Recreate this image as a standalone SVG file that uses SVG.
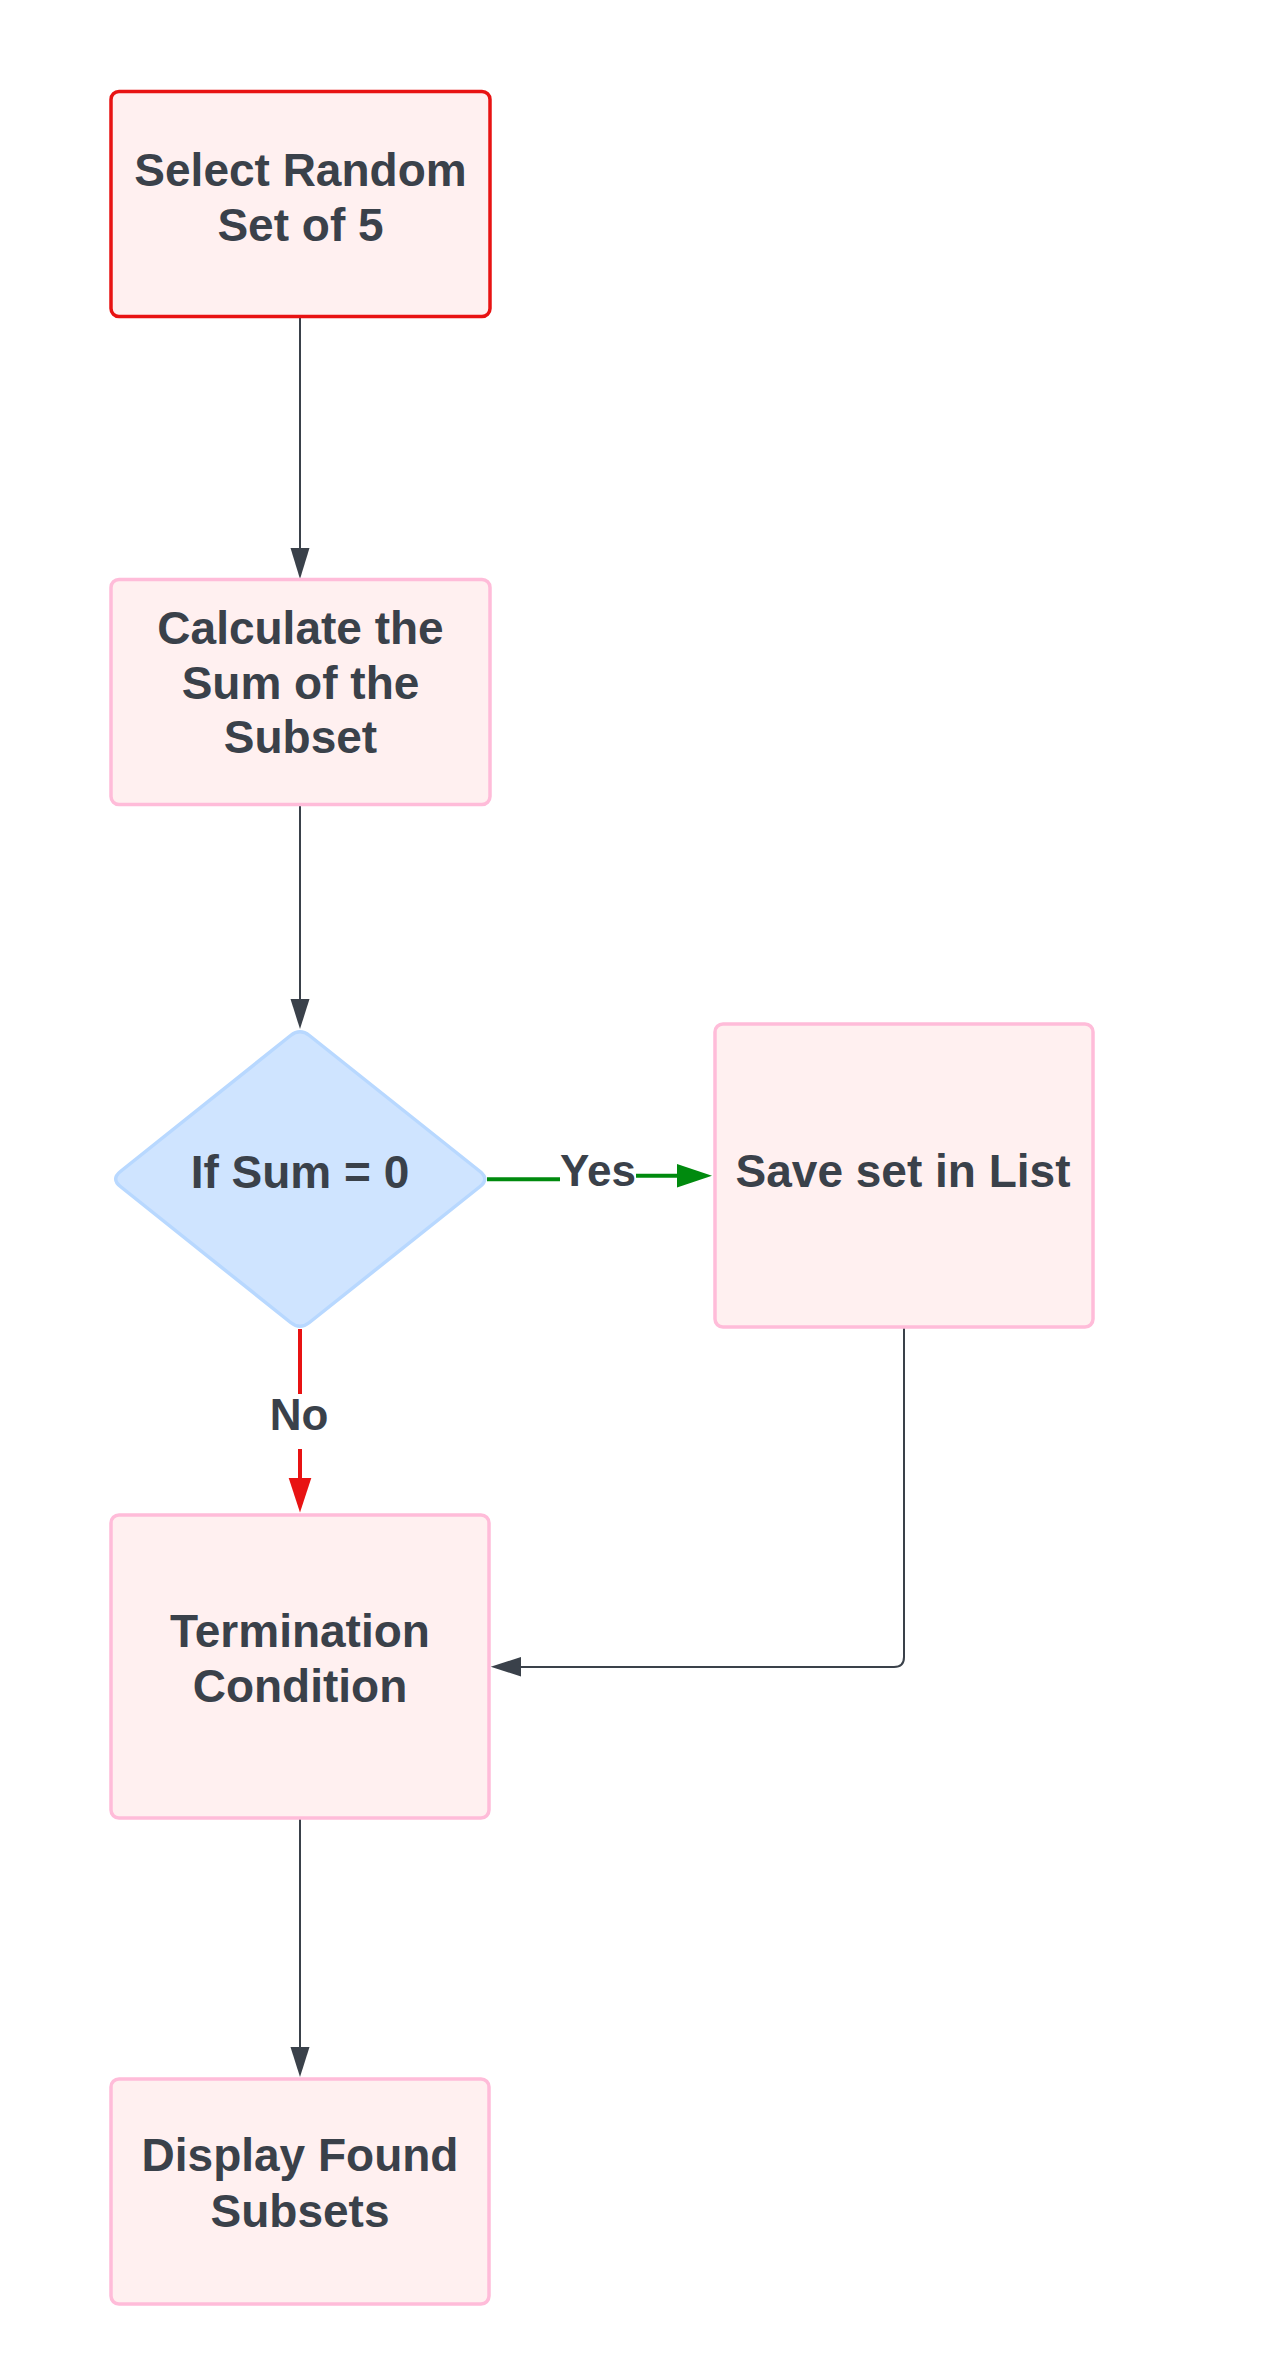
<svg xmlns="http://www.w3.org/2000/svg" width="1282" height="2379" viewBox="0 0 1282 2379">
<style>
.box{fill:#fff0f0;stroke:#ffbcd9;stroke-width:3.5}
.start{fill:#fff0f0;stroke:#e81313;stroke-width:3.5}
.dec{fill:#cfe4ff;stroke:#b8d8ff;stroke-width:3.5}
.t{font-family:"Liberation Sans",Arial,sans-serif;font-weight:bold;font-size:46px;fill:#3a414a;text-anchor:middle}
.lbl{font-family:"Liberation Sans",Arial,sans-serif;font-weight:bold;font-size:44px;fill:#3a414a;text-anchor:middle}
.c{fill:none;stroke:#3a414a;stroke-width:2}
.g{fill:none;stroke:#008a0e;stroke-width:4}
.r{fill:none;stroke:#e81313;stroke-width:4}
.ah{fill:#3a414a}
.ahg{fill:#008a0e}
.ahr{fill:#e81313}
</style>
<rect width="1282" height="2379" fill="#ffffff"/>
<g id="connectors">
<path class="c" d="M300,317 V549"/>
<polygon class="ah" points="290.5,548 309.5,548 300,579"/>
<path class="c" d="M300,805 V1000"/>
<polygon class="ah" points="290.5,999 309.5,999 300,1029"/>
<path class="g" d="M487,1179.3 H560"/>
<path class="g" d="M636,1175.7 H678"/>
<polygon class="ahg" points="677,1164 677,1187.4 712,1175.7"/>
<text class="lbl" x="598" y="1186">Yes</text>
<path class="r" d="M300,1329 V1394"/>
<path class="r" d="M300,1449 V1479"/>
<polygon class="ahr" points="288.7,1478 311.3,1478 300,1512.5"/>
<text class="lbl" x="299" y="1430">No</text>
<path class="c" d="M904,1328 V1657 Q904,1667 894,1667 H520"/>
<polygon class="ah" points="521,1657 521,1676.5 490.7,1666.7"/>
<path class="c" d="M300,1819 V2048"/>
<polygon class="ah" points="290.5,2047 309.5,2047 300,2077"/>
</g>
<g id="select">
<rect class="start" x="111" y="91.5" width="379" height="225" rx="8"/>
<text class="t" x="300.5" y="186">Select Random</text>
<text class="t" x="300.5" y="241">Set of 5</text>
</g>
<g id="calculate">
<rect class="box" x="111" y="579.5" width="379" height="225" rx="8"/>
<text class="t" x="300.5" y="644">Calculate the</text>
<text class="t" x="300.5" y="699">Sum of the</text>
<text class="t" x="300.5" y="753">Subset</text>
</g>
<g id="decision">
<path class="dec" d="M309.4,1035.5 L480.1,1171.5 Q489.5,1179 480.1,1186.5 L309.4,1322.5 Q300,1330 290.6,1322.5 L120.4,1186.5 Q111,1179 120.4,1171.5 L290.6,1035.5 Q300,1028 309.4,1035.5 Z"/>
<text class="t" x="300" y="1188">If Sum = 0</text>
</g>
<g id="save">
<rect class="box" x="715" y="1024" width="378" height="303" rx="8"/>
<text class="t" x="903" y="1187">Save set in List</text>
</g>
<g id="termination">
<rect class="box" x="111" y="1515" width="378" height="303" rx="8"/>
<text class="t" x="300" y="1647">Termination</text>
<text class="t" x="300" y="1702">Condition</text>
</g>
<g id="display">
<rect class="box" x="111" y="2079" width="378" height="225" rx="8"/>
<text class="t" x="300" y="2171">Display Found</text>
<text class="t" x="300" y="2227">Subsets</text>
</g>
</svg>
